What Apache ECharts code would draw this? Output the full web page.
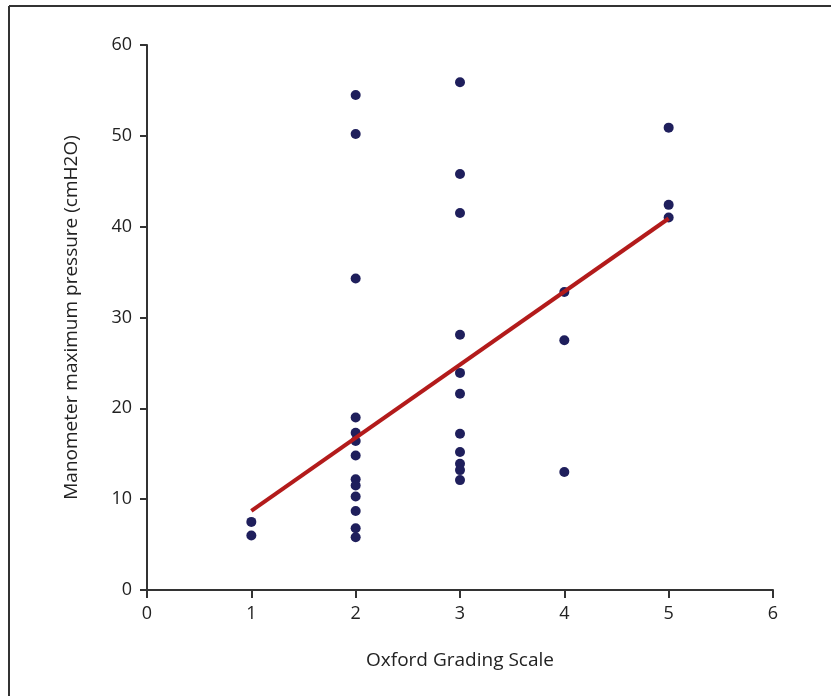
<!DOCTYPE html>
<html>
<head>
<meta charset="utf-8">
<script src="https://cdn.jsdelivr.net/npm/echarts@6/dist/echarts.min.js"></script>
<style>html,body{margin:0;padding:0;background:#fff;}#c{width:831px;height:696px;}</style>
</head>
<body>
<div id="c"></div>
<script>
const xGrade1 = [1, 1];
const yGrade1 = [7.5, 6.0];
const xGrade2 = [2, 2, 2, 2, 2, 2, 2, 2, 2, 2, 2, 2, 2];
const yGrade2 = [54.5, 50.2, 34.3, 19.0, 17.3, 16.4, 14.8, 12.2, 11.5, 10.3, 8.7, 6.8, 5.8];
const xGrade3 = [3, 3, 3, 3, 3, 3, 3, 3, 3, 3, 3];
const yGrade3 = [55.9, 45.8, 41.5, 28.1, 23.9, 21.6, 17.2, 15.2, 13.9, 13.2, 12.1];
const xGrade4 = [4, 4, 4];
const yGrade4 = [32.8, 27.5, 13.0];
const xGrade5 = [5, 5, 5];
const yGrade5 = [50.9, 42.4, 41.0];
const fitX = [1, 5];
const fitY = [8.7, 40.9];
const xTicks = [0, 1, 2, 3, 4, 5, 6];
const yTicks = [0, 10, 20, 30, 40, 50, 60];

const points = [];
[[xGrade1, yGrade1], [xGrade2, yGrade2], [xGrade3, yGrade3], [xGrade4, yGrade4], [xGrade5, yGrade5]].forEach(([xs, ys]) => {
  xs.forEach((x, i) => points.push([x, ys[i]]));
});
const fitLine = fitX.map((x, i) => [x, fitY[i]]);

const font = "'Open Sans', Lato, sans-serif";
const chart = echarts.init(document.getElementById('c'));
chart.setOption({
  backgroundColor: '#fff',
  animation: false,
  graphic: [
    { type: 'line', shape: { x1: 9, y1: 6, x2: 9, y2: 700 }, style: { stroke: '#333', lineWidth: 2 } },
    { type: 'line', shape: { x1: 9, y1: 6, x2: 840, y2: 6 }, style: { stroke: '#333', lineWidth: 2 } }
  ],
  grid: { left: 147, right: 58, top: 45, bottom: 106, containLabel: false },
  xAxis: {
    type: 'value', min: xTicks[0], max: xTicks[xTicks.length - 1], interval: 1,
    name: 'Oxford Grading Scale', nameLocation: 'middle', nameGap: 61,
    nameTextStyle: { fontFamily: font, fontSize: 19, color: '#222' },
    axisLine: { show: true, onZero: false, lineStyle: { color: '#333', width: 2 } },
    axisTick: { show: true, length: 8, lineStyle: { color: '#333', width: 2 } },
    axisLabel: { fontFamily: font, fontSize: 18, color: '#222', margin: 15 },
    splitLine: { show: false }
  },
  yAxis: {
    type: 'value', min: yTicks[0], max: yTicks[yTicks.length - 1], interval: 10,
    name: 'Manometer maximum pressure (cmH2O)', nameLocation: 'middle', nameGap: 66, nameRotate: 90,
    nameTextStyle: { fontFamily: font, fontSize: 19, color: '#222' },
    axisLine: { show: true, onZero: false, lineStyle: { color: '#333', width: 2 } },
    axisTick: { show: true, length: 7, lineStyle: { color: '#333', width: 2 } },
    axisLabel: { fontFamily: font, fontSize: 18, color: '#222', margin: 15 },
    splitLine: { show: false }
  },
  series: [
    {
      type: 'scatter', data: points, symbol: 'circle', symbolSize: 10,
      itemStyle: { color: '#1f1f5c', opacity: 1 }, z: 2
    },
    {
      type: 'line', data: fitLine, symbol: 'none',
      lineStyle: { color: '#b31b1b', width: 4 }, z: 3
    }
  ]
});
</script>
</body>
</html>
